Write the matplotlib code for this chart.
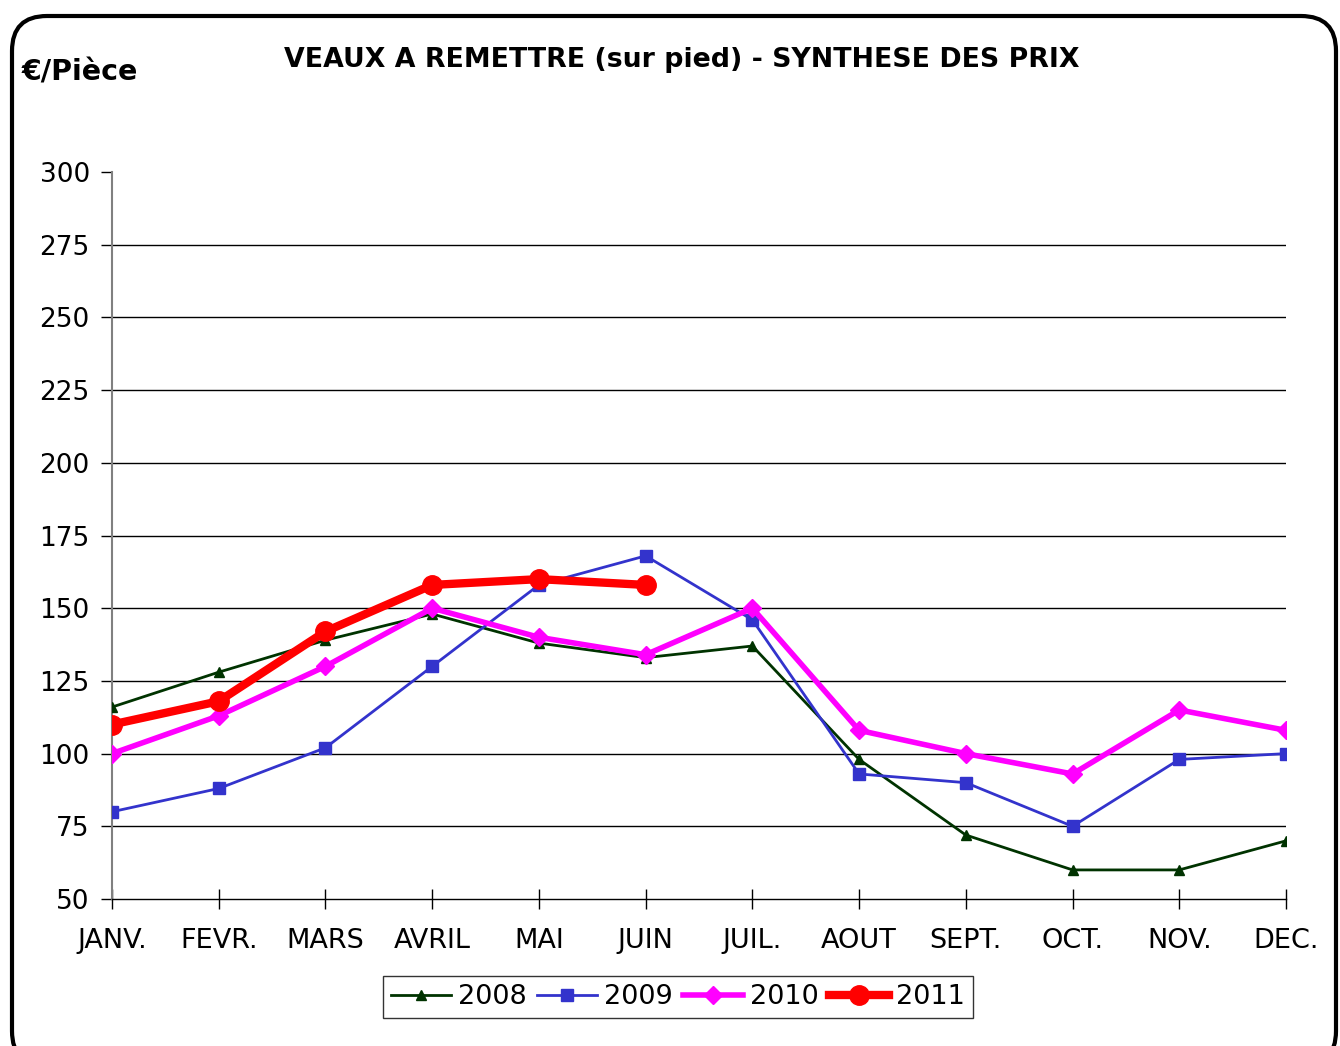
import matplotlib
matplotlib.use("Agg")
import matplotlib.pyplot as plt
from matplotlib.patches import FancyBboxPatch

# Prix veaux a remettre, EUR/piece
mois = ["JANV.", "FEVR.", "MARS", "AVRIL", "MAI", "JUIN",
        "JUIL.", "AOUT", "SEPT.", "OCT.", "NOV.", "DEC."]
prix_2008 = [116, 128, 139, 148, 138, 133, 137, 98, 72, 60, 60, 70]
prix_2009 = [80, 88, 102, 130, 158, 168, 146, 93, 90, 75, 98, 100]
prix_2010 = [100, 113, 130, 150, 140, 134, 150, 108, 100, 93, 115, 108]
prix_2011 = [110, 118, 142, 158, 160, 158]
y_ticks = [50, 75, 100, 125, 150, 175, 200, 225, 250, 275, 300]

plt.rcParams['font.family'] = ['DejaVu Sans']

fig = plt.figure(figsize=(13.4, 10.46), dpi=100)
ax = fig.add_axes([112 / 1340, 1 - 899 / 1046, (1286 - 112) / 1340, (899 - 172) / 1046])

x = list(range(len(mois)))
ax.plot(x, prix_2008, color="#003300", lw=2, marker="^", ms=7, label="2008", zorder=3)
ax.plot(x, prix_2009, color="#3333CC", lw=2, marker="s", ms=9, label="2009", zorder=4)
ax.plot(x, prix_2010, color="#FF00FF", lw=4, marker="D", ms=9, label="2010", zorder=5)
ax.plot(x[:len(prix_2011)], prix_2011, color="#FF0000", lw=6, marker="o", ms=14,
        label="2011", zorder=6)

ax.set_xlim(0, len(mois) - 1)
ax.set_ylim(50, 300)
ax.set_xticks(x)
ax.set_xticklabels(mois, fontsize=19.5)
ax.set_yticks(y_ticks)
ax.set_yticklabels([str(v) for v in y_ticks], fontsize=19)

# grid lines (none at 300)
for v in y_ticks[1:-1]:
    ax.axhline(v, color="black", lw=1, zorder=1)

for s in ["top", "right"]:
    ax.spines[s].set_visible(False)
ax.spines["left"].set_color("#808080")
ax.spines["left"].set_linewidth(1.5)
ax.spines["bottom"].set_color("black")
ax.spines["bottom"].set_linewidth(1)
ax.tick_params(axis="y", direction="out", length=8, width=1, color="black", pad=8)
ax.tick_params(axis="x", direction="inout", length=14, width=1, color="black", pad=14)

fig.text(682 / 1340, 1 - 60 / 1046, "VEAUX A REMETTRE (sur pied) - SYNTHESE DES PRIX",
         ha="center", va="center", fontsize=19.3, fontweight="bold")
fig.text(22 / 1340, 1 - 72 / 1046, "€/Pièce", ha="left", va="center",
         fontsize=20.5, fontweight="bold")

leg = fig.legend(loc="center", bbox_to_anchor=(678 / 1340, 1 - 997 / 1046), ncol=4,
                 fontsize=19.5, frameon=True, fancybox=False, edgecolor="black",
                 handlelength=2.2, handletextpad=0.25, columnspacing=0.4,
                 borderpad=0.3, borderaxespad=0)
leg.get_frame().set_linewidth(1)

# rounded outer frame
border = FancyBboxPatch((12, -20), 1324, 1050, boxstyle="round,pad=0,rounding_size=35",
                        transform=None, fill=False, edgecolor="black", lw=3)
fig.patches.append(border)

fig.savefig("out.png", dpi=100)
